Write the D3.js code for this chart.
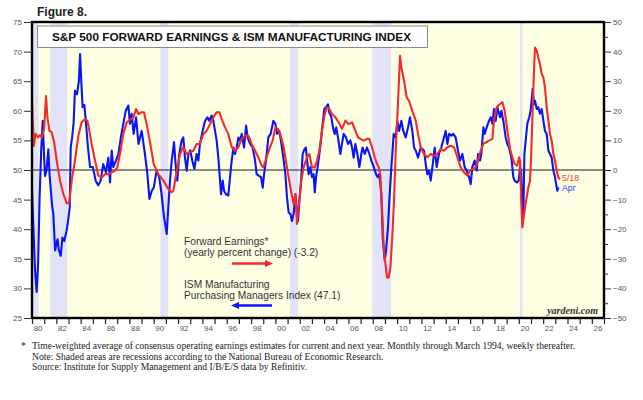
<!DOCTYPE html>
<html><head><meta charset="utf-8">
<script src="https://cdn.jsdelivr.net/npm/d3@7"></script>
<style>
html,body{margin:0;padding:0;background:#fff;}
svg{display:block;}
</style></head>
<body>
<script>
// ---------- DATA ----------
const recessions = [[1980.0,1980.55],[1981.5,1982.9],[1990.55,1991.2],[2001.2,2001.87],[2007.95,2009.5],[2020.1,2020.3]];
const leftTicks = [25,30,35,40,45,50,55,60,65,70,75];
const rightTicks = [-50,-40,-30,-20,-10,0,10,20,30,40,50];
const yearLabels = ["80","82","84","86","88","90","92","94","96","98","00","02","04","06","08","10","12","14","16","18","20","22","24","26"];

// ISM Manufacturing PMI (left axis)
const ismDates = [1980.00,1980.12,1980.25,1980.38,1980.5,1980.62,1980.75,1980.88,1981.0,1981.07,1981.2,1981.34,1981.45,1981.53,1981.65,1981.75,1981.9,1982.0,1982.1,1982.2,1982.36,1982.5,1982.65,1982.85,1983.0,1983.1,1983.18,1983.3,1983.42,1983.53,1983.7,1983.85,1983.95,1984.05,1984.16,1984.3,1984.44,1984.6,1984.77,1985.0,1985.23,1985.45,1985.64,1985.85,1986.08,1986.27,1986.41,1986.55,1986.68,1986.9,1987.1,1987.3,1987.5,1987.7,1987.92,1988.05,1988.19,1988.35,1988.55,1988.75,1989.01,1989.28,1989.48,1989.65,1989.84,
1990.0,1990.24,1990.45,1990.65,1990.85,1991.07,1991.2,1991.34,1991.48,1991.67,1991.8,1991.94,1992.1,1992.3,1992.43,1992.57,1992.71,1992.85,1993.0,1993.17,1993.34,1993.53,1993.67,1993.8,1994.02,1994.22,1994.41,1994.57,1994.76,1994.9,1995.04,1995.17,1995.31,1995.45,1995.53,1995.67,1995.78,1995.94,1996.13,1996.27,1996.41,1996.55,1996.68,1996.82,1996.96,1997.1,1997.23,1997.42,1997.59,1997.72,1997.92,1998.13,1998.33,1998.46,1998.65,1998.82,1998.96,1999.07,1999.23,1999.42,1999.61,1999.83,
2000.0,2000.13,2000.32,2000.54,2000.68,2000.82,2000.95,2001.09,2001.23,2001.36,2001.5,2001.64,2001.77,2001.86,2001.97,2002.13,2002.24,2002.38,2002.51,2002.6,2002.73,2002.87,2003.01,2003.14,2003.23,2003.34,2003.47,2003.61,2003.77,2003.88,2004.02,2004.16,2004.32,2004.43,2004.6,2004.73,2004.87,2005.0,2005.14,2005.34,2005.47,2005.61,2005.8,2005.97,2006.16,2006.3,2006.43,2006.57,2006.71,2006.9,2007.06,2007.17,2007.34,2007.53,2007.72,2007.88,2008.08,2008.27,2008.4,2008.54,2008.7,2008.82,2008.98,2009.09,2009.25,2009.36,2009.53,2009.72,2009.88,
2010.02,2010.16,2010.35,2010.51,2010.70,2010.9,2011.06,2011.25,2011.39,2011.53,2011.72,2011.94,2012.21,2012.35,2012.48,2012.62,2012.76,2012.9,2013.09,2013.25,2013.44,2013.63,2013.85,2013.99,2014.13,2014.27,2014.46,2014.62,2014.81,2015.0,2015.17,2015.36,2015.55,2015.72,2015.91,2016.05,2016.18,2016.37,2016.54,2016.65,2016.81,2016.92,2017.09,2017.2,2017.36,2017.55,2017.69,2017.83,2017.96,2018.1,2018.24,2018.46,2018.57,2018.73,2018.92,2019.06,2019.2,2019.39,2019.55,2019.66,2019.83,2019.99,
2020.1,2020.2,2020.3,2020.38,2020.46,2020.59,2020.7,2020.86,2020.97,2021.14,2021.25,2021.33,2021.47,2021.6,2021.74,2021.88,2022.02,2022.15,2022.29,2022.43,2022.56,2022.7,2022.84,2022.97,2023.11,2023.17,2023.25];
const ismValues = [46.5,40,33,29.4,34,45,53,58.3,52,49,50,53.5,49,47,44,42.6,36.4,37.5,38.3,36.5,35.5,38.6,38,39.8,42,43.7,53.8,55.5,58,63.4,62.8,65,69.6,65,60.6,61,57.8,53.8,50.5,50.5,48.2,47.4,48.2,51,49.6,52.1,47.9,53.3,50.5,51.6,52.7,55.5,57.8,60,60.9,57.8,59.5,56.1,58.9,54.4,56.6,52.7,49.3,45.1,46.5,
47,49.9,48.8,45.9,42,39.2,43.7,48.2,51.6,54.7,51,48.2,52.7,55,55.5,52.1,49.9,52.7,53.3,51.6,50.2,52.7,51.6,54.4,56.6,58.3,58.9,58.3,59.2,58.3,56.6,55,52.1,48.2,45.9,48.2,46.5,45.9,45.7,48.8,51.6,53.8,52.7,53.8,55.5,55,56.1,53.8,57.5,55.5,54.4,53.8,51.6,49.3,49,48.8,47,49.3,51.6,55.5,56.1,58.3,
57.8,56.1,56.6,53.8,51.6,49.3,45.4,42.8,42.6,41.4,42.6,45.9,43.1,41.4,44.8,48.8,52.7,53.5,53.8,51.6,49.3,50.5,48.8,49.3,46.2,48.8,50.5,52.7,55.5,57.8,60.3,60.6,61.1,59.7,58.9,57.2,56.1,57.2,55.5,52.7,54.4,56.1,55.5,54.4,55,53.8,52.1,54.4,53,50.5,52.7,53.8,52.7,53.8,52.7,51.6,50.5,49.3,48.8,49.3,45.9,38.6,34.7,36.4,40.3,44.8,50.5,56.1,55.5,
58.3,56.6,58.3,56.6,55.5,57.2,58.9,56.6,53.8,53.3,52.1,53.8,53.3,51,49.3,49.9,48.2,50.5,53.8,50.5,52.7,53.8,55.5,56.6,54.4,56.1,55.8,56.1,55.5,53.3,51.6,52.7,50.5,49.9,48.8,47.6,50.5,51.6,49.9,52.7,51.6,52.7,57.2,56.1,57.2,58.3,58.9,57.8,60.3,58.3,60.6,58.9,60,58.3,55.5,54.4,53.8,52.1,48.8,48.2,47.9,48.2,
50.5,49.5,41.5,43.5,52.7,55.5,57.8,58.9,60,63.7,61.1,61.7,60.3,60.6,59.5,60.3,58.3,56.6,56.1,53.3,52.7,52.1,49.9,48.8,47.1,46.5,47.1];

// S&P 500 forward earnings, yearly percent change (right axis)
const feDates = [1980.0,1980.05,1980.15,1980.3,1980.5,1980.65,1980.8,1981.0,1981.15,1981.27,1981.43,1981.62,1981.8,1982.03,1982.3,1982.58,1982.85,1983.06,1983.26,1983.53,1983.81,1984.08,1984.36,1984.55,1984.71,1984.9,1985.18,1985.45,1985.73,1986.0,1986.27,1986.55,1986.82,1987.01,1987.23,1987.5,1987.78,1988.05,1988.33,1988.55,1988.74,1989.01,1989.2,1989.42,1989.72,
1990.0,1990.38,1990.8,1991.2,1991.47,1991.61,1991.9,1992.16,1992.43,1992.71,1992.98,1993.26,1993.53,1993.8,1994.08,1994.35,1994.63,1994.9,1995.17,1995.4,1995.59,1995.86,1996.13,1996.41,1996.68,1996.96,1997.23,1997.5,1997.78,1998.05,1998.33,1998.6,1998.87,1999.01,1999.28,1999.56,1999.78,
2000.0,2000.21,2000.4,2000.68,2000.95,2001.23,2001.5,2001.64,2001.77,2001.91,2002.13,2002.32,2002.6,2002.79,2003.01,2003.23,2003.42,2003.61,2003.83,2004.05,2004.24,2004.43,2004.65,2004.93,2005.2,2005.47,2005.75,2006.02,2006.3,2006.57,2006.79,2006.98,2007.25,2007.53,2007.72,2007.94,2008.16,2008.35,2008.49,2008.62,2008.76,2008.9,2009.04,2009.17,2009.31,2009.45,2009.6,2009.75,2009.9,
2010.02,2010.24,2010.35,2010.57,2010.79,2010.98,2011.25,2011.53,2011.72,2011.94,2012.21,2012.48,2012.76,2013.03,2013.31,2013.58,2013.85,2014.13,2014.4,2014.68,2014.95,2015.22,2015.5,2015.77,2015.99,2016.18,2016.46,2016.65,2016.87,2017.09,2017.28,2017.55,2017.83,2017.96,2018.18,2018.46,2018.65,2018.84,2019.06,2019.28,2019.47,2019.66,2019.88,
2020.02,2020.1,2020.18,2020.29,2020.37,2020.51,2020.65,2020.78,2020.92,2021.0,2021.11,2021.25,2021.33,2021.47,2021.6,2021.74,2021.88,2022.02,2022.15,2022.29,2022.43,2022.56,2022.7,2022.84,2022.97,2023.11,2023.25,2023.38];
const feValues = [23.4,18,8.2,12.2,11,11.8,11,14,25,17.8,13.3,12.7,9.9,3.2,-3.6,-8.1,-11.3,-10.9,-3.6,3.2,11.6,16.1,17.2,16.7,13.3,8.8,3.2,-1.9,-2.5,-1.4,-1.4,-0.8,-0.2,0.9,5.4,12.2,16.1,16.9,17.8,20.6,18.9,19.5,19.5,15.5,9,
2,-1.4,-3.6,-6.4,-7.5,-7,-0.2,5.4,7.7,5.4,6,6.5,8.8,8.8,12.2,13.3,15.5,17.8,19.5,19.5,17.2,14.4,12.2,7.7,6.5,7.7,10.5,11.6,11.6,8.8,6.5,4.3,1.5,0.9,4.3,7.7,10,
14.4,13.9,12.2,7.7,0.9,-5.9,-11.5,-8.1,-18.2,-12.6,-3.6,0.9,4.3,5.4,0.9,0.9,3.2,6.5,13.3,18.9,21.2,20.6,18.9,17.8,16.1,13.9,16.7,15.5,16.1,13.3,11,10.5,9.9,10.5,10.5,7.7,4.3,2,0.9,-1.4,-12.6,-26,-31.8,-36.3,-36.3,-32.9,-22.7,-10,8,
17.8,38.6,34.7,30.2,24.5,23.4,20,16.7,12.2,7.7,5.4,4.3,5.4,4.8,5.4,7.1,6.5,7.7,8.2,7.7,4.3,0.9,-0.8,-1.9,-0.2,0.3,0.9,3.2,6.5,8.8,9.3,9.9,10.5,16.7,21.2,22.3,22.9,20,13.3,7.1,4.3,2,1.5,
4.3,3.2,-8.1,-19.4,-17.1,-12.6,-9.2,-5.9,-3.6,3.2,16.7,33.6,41.4,40.3,38,35.8,32.4,31.3,27.9,21.2,16.7,12.2,9.9,5.4,3.2,-0.2,-2.5,-3.2];

// ---------- CHART ----------
const W = 643, H = 400;
const M = {l:32, r:604, t:22, b:318};
const svg = d3.select("body").append("svg").attr("width", W).attr("height", H);

const x = d3.scaleLinear().domain([1980, 2027]).range([M.l, M.r]);
const yL = d3.scaleLinear().domain([25, 75]).range([M.b, M.t]);
const yR = d3.scaleLinear().domain([-50, 50]).range([M.b, M.t]);

svg.append("defs").append("clipPath").attr("id","clip")
  .append("rect").attr("x",M.l).attr("y",M.t).attr("width",M.r-M.l).attr("height",M.b-M.t);

// plot background
svg.append("rect").attr("x",M.l).attr("y",M.t).attr("width",M.r-M.l).attr("height",M.b-M.t).attr("fill","#ffffe3");

// recessions
svg.append("g").selectAll("rect").data(recessions).join("rect")
  .attr("x", d => x(d[0])).attr("width", d => x(d[1]) - x(d[0]))
  .attr("y", M.t).attr("height", M.b - M.t).attr("fill", "#e3e3f8");

// zero line
svg.append("line").attr("x1",M.l).attr("x2",M.r).attr("y1",yR(0)).attr("y2",yR(0))
  .attr("stroke","#000").attr("stroke-width",0.9);

// title box
svg.append("rect").attr("x",37.5).attr("y",26).attr("width",390).attr("height",21.5)
  .attr("fill","#fff").attr("stroke","#8a8a8a").attr("stroke-width",1);
svg.append("text").attr("x",52).attr("y",41.3)
  .attr("font-family","Liberation Sans, Arial, sans-serif").attr("font-weight","bold").attr("font-size",11.2)
  .attr("textLength",359).attr("lengthAdjust","spacingAndGlyphs").attr("fill","#111")
  .text("S&P 500 FORWARD EARNINGS & ISM MANUFACTURING INDEX");

// lines
const g = svg.append("g").attr("clip-path","url(#clip)");
const ismPts = ismDates.map((d,i) => [d, ismValues[i]]);
const fePts = feDates.map((d,i) => [d, feValues[i]]);
g.append("path").datum(ismPts)
  .attr("fill","none").attr("stroke","#0a14f5").attr("stroke-width",2.1).attr("stroke-linejoin","round")
  .attr("d", d3.line().x(d => x(d[0])).y(d => yL(d[1])));
g.append("path").datum(fePts)
  .attr("fill","none").attr("stroke","#f52a2a").attr("stroke-width",2.1).attr("stroke-linejoin","round")
  .attr("d", d3.line().x(d => x(d[0])).y(d => yR(d[1])));

// frame
svg.append("rect").attr("x",M.l).attr("y",M.t).attr("width",M.r-M.l).attr("height",M.b-M.t)
  .attr("fill","none").attr("stroke","#000").attr("stroke-width",2.4);

const axisFont = "Liberation Sans, Arial, sans-serif";
// left axis
const la = svg.append("g").attr("transform",`translate(${M.l},0)`)
  .call(d3.axisLeft(yL).tickValues(leftTicks).tickSize(8).tickPadding(2));
la.select(".domain").remove();
la.selectAll("line").attr("stroke","#333");
la.selectAll("text").attr("font-family",axisFont).attr("font-size",8).attr("fill","#555");

// right axis
const ra = svg.append("g").attr("transform",`translate(${M.r},0)`)
  .call(d3.axisRight(yR).tickValues(rightTicks).tickSize(7).tickPadding(2));
ra.select(".domain").remove();
ra.selectAll("line").attr("stroke","#333");
ra.selectAll("text").attr("font-family",axisFont).attr("font-size",8).attr("fill","#555");
const raMinor = svg.append("g").attr("transform",`translate(${M.r},0)`)
  .call(d3.axisRight(yR).tickValues(rightTicks.slice(0,-1).map(v => v + 5)).tickSize(4).tickFormat(""));
raMinor.select(".domain").remove();
raMinor.selectAll("line").attr("stroke","#333");

// bottom axis
const years = d3.range(1980, 2028);
const ba = svg.append("g").attr("transform",`translate(0,${M.b})`)
  .call(d3.axisBottom(x).tickValues(years).tickSize(6).tickFormat(""));
ba.select(".domain").remove();
ba.selectAll("line").attr("stroke","#222").attr("stroke-width",1.2);
svg.append("g").selectAll("text").data(yearLabels).join("text")
  .attr("x", (d,i) => x(1980 + 2*i + 0.5)).attr("y", 331)
  .attr("text-anchor","middle").attr("font-family",axisFont).attr("font-size",8).attr("fill","#555")
  .text(d => d);

// Figure label
svg.append("text").attr("x",37).attr("y",15.5).attr("font-family",axisFont)
  .attr("font-weight","bold").attr("font-size",12).attr("fill","#222").text("Figure 8.");

// legend
const legFont = "Liberation Sans, Arial, sans-serif";
const leg = svg.append("g").attr("font-family",legFont).attr("font-size",10.2).attr("fill","#333");
leg.append("text").attr("x",184).attr("y",245).text("Forward Earnings*");
leg.append("text").attr("x",184).attr("y",256).text("(yearly percent change) (-3.2)");
leg.append("text").attr("x",184).attr("y",288).text("ISM Manufacturing");
leg.append("text").attr("x",184).attr("y",299).text("Purchasing Managers Index (47.1)");
// arrows
svg.append("line").attr("x1",232).attr("x2",266).attr("y1",263.5).attr("y2",263.5).attr("stroke","#f52a2a").attr("stroke-width",2.6);
svg.append("path").attr("d","M265,260 L273,263.5 L265,267 Z").attr("fill","#f52a2a");
svg.append("line").attr("x1",238).attr("x2",272).attr("y1",305.5).attr("y2",305.5).attr("stroke","#0a14f5").attr("stroke-width",2.6);
svg.append("path").attr("d","M239,302 L231,305.5 L239,309 Z").attr("fill","#0a14f5");

// end labels
svg.append("text").attr("x",562).attr("y",180.5).attr("font-family",legFont).attr("font-size",8.8).attr("fill","#f54040").text("5/18");
svg.append("text").attr("x",562).attr("y",191).attr("font-family",legFont).attr("font-size",8.8).attr("fill","#3a3af5").text("Apr");

// watermark
svg.append("text").attr("x",598).attr("y",314).attr("text-anchor","end")
  .attr("font-family","Liberation Serif, Times New Roman, serif").attr("font-style","italic").attr("font-weight","bold")
  .attr("font-size",10).attr("fill","#333").text("yardeni.com");

// footnotes
const fn = svg.append("g").attr("font-family","Liberation Serif, Times New Roman, serif").attr("font-size",9.6).attr("fill","#222");
fn.append("text").attr("x",21).attr("y",349).text("*");
fn.append("text").attr("x",32).attr("y",349).text("Time-weighted average of consensus operating earnings estimates for current and next year. Monthly through March 1994, weekly thereafter.");
fn.append("text").attr("x",32).attr("y",359.5).text("Note: Shaded areas are recessions according to the National Bureau of Economic Research.");
fn.append("text").attr("x",32).attr("y",370).text("Source: Institute for Supply Management and I/B/E/S data by Refinitiv.");
</script>
</body></html>
